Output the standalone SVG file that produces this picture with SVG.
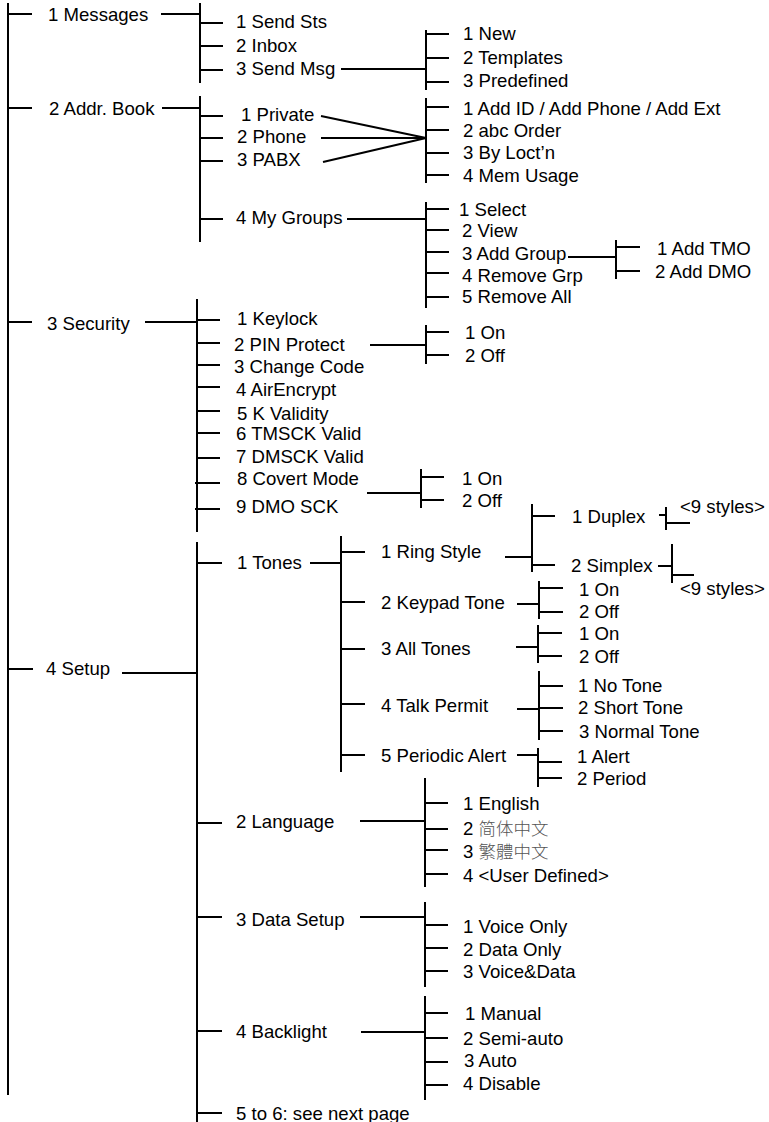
<svg xmlns="http://www.w3.org/2000/svg" width="769" height="1122" viewBox="0 0 769 1122">
<style>
  .c line { stroke: #000; stroke-width: 2; stroke-linecap: butt; fill: none; }
  text { font-family: "Liberation Sans", Arial, sans-serif; font-size: 18.6px; fill: #000; }
  .cjk { font-family: "Noto Sans CJK SC", sans-serif; fill: #555; font-weight: 300; font-size: 17.5px; }
  .cjktc { font-family: "Noto Sans CJK TC", sans-serif; fill: #555; font-weight: 300; font-size: 17.5px; }
</style>
<rect width="769" height="1122" fill="#fff"/>
<g id="connectors" class="c">
  <line x1="8" y1="3" x2="8" y2="1095"/>
  <line x1="8" y1="14" x2="32" y2="14"/>
  <line x1="8" y1="108" x2="32" y2="108"/>
  <line x1="8" y1="322" x2="32" y2="322"/>
  <line x1="8" y1="669" x2="33" y2="669"/>
  <!-- Messages -->
  <line x1="161" y1="14" x2="200" y2="14"/>
  <line x1="200" y1="3" x2="200" y2="83"/>
  <line x1="200" y1="23" x2="223" y2="23"/>
  <line x1="200" y1="46" x2="223" y2="46"/>
  <line x1="200" y1="70" x2="223" y2="70"/>
  <line x1="341" y1="69" x2="426" y2="69"/>
  <line x1="426" y1="30" x2="426" y2="90"/>
  <line x1="426" y1="34" x2="449" y2="34"/>
  <line x1="426" y1="58" x2="449" y2="58"/>
  <line x1="426" y1="82" x2="449" y2="82"/>
  <!-- Addr Book -->
  <line x1="162" y1="108" x2="200" y2="108"/>
  <line x1="200" y1="96" x2="200" y2="242"/>
  <line x1="200" y1="116" x2="223" y2="116"/>
  <line x1="200" y1="138" x2="223" y2="138"/>
  <line x1="200" y1="161" x2="223" y2="161"/>
  <line x1="200" y1="219" x2="223" y2="219"/>
  <line x1="321" y1="116" x2="426" y2="138" stroke-width="1.3"/>
  <line x1="321" y1="138" x2="426" y2="138"/>
  <line x1="323" y1="162" x2="426" y2="138" stroke-width="1.3"/>
  <line x1="426" y1="98" x2="426" y2="183"/>
  <line x1="426" y1="107" x2="449" y2="107"/>
  <line x1="426" y1="130" x2="449" y2="130"/>
  <line x1="426" y1="153" x2="449" y2="153"/>
  <line x1="426" y1="175" x2="449" y2="175"/>
  <line x1="347" y1="219" x2="426" y2="219"/>
  <line x1="426" y1="202" x2="426" y2="308"/>
  <line x1="426" y1="209" x2="449" y2="209"/>
  <line x1="426" y1="230" x2="449" y2="230"/>
  <line x1="426" y1="252" x2="449" y2="252"/>
  <line x1="426" y1="273" x2="449" y2="273"/>
  <line x1="426" y1="297" x2="449" y2="297"/>
  <line x1="568" y1="257" x2="616" y2="257"/>
  <line x1="616" y1="240" x2="616" y2="279"/>
  <line x1="616" y1="247" x2="640" y2="247"/>
  <line x1="616" y1="271" x2="640" y2="271"/>
  <!-- Security -->
  <line x1="145" y1="322" x2="197" y2="322"/>
  <line x1="197" y1="299" x2="197" y2="532"/>
  <line x1="197" y1="320" x2="220" y2="320"/>
  <line x1="197" y1="343" x2="220" y2="343"/>
  <line x1="197" y1="365" x2="220" y2="365"/>
  <line x1="197" y1="387" x2="220" y2="387"/>
  <line x1="197" y1="411" x2="220" y2="411"/>
  <line x1="197" y1="433" x2="220" y2="433"/>
  <line x1="197" y1="458" x2="220" y2="458"/>
  <line x1="195" y1="483" x2="220" y2="483"/>
  <line x1="195" y1="509" x2="220" y2="509"/>
  <line x1="370" y1="345" x2="426" y2="345"/>
  <line x1="426" y1="325" x2="426" y2="364"/>
  <line x1="426" y1="332" x2="449" y2="332"/>
  <line x1="426" y1="355" x2="449" y2="355"/>
  <line x1="367" y1="493" x2="421" y2="493"/>
  <line x1="421" y1="469" x2="421" y2="508"/>
  <line x1="421" y1="477" x2="444" y2="477"/>
  <line x1="421" y1="500" x2="444" y2="500"/>
  <!-- Setup -->
  <line x1="122" y1="673" x2="197" y2="673"/>
  <line x1="197" y1="542" x2="197" y2="1122"/>
  <line x1="197" y1="563" x2="222" y2="563"/>
  <line x1="197" y1="823" x2="222" y2="823"/>
  <line x1="197" y1="917" x2="222" y2="917"/>
  <line x1="197" y1="1031" x2="222" y2="1031"/>
  <line x1="197" y1="1113" x2="222" y2="1113"/>
  <!-- Tones -->
  <line x1="310" y1="563" x2="341" y2="563"/>
  <line x1="341" y1="536" x2="341" y2="772"/>
  <line x1="341" y1="552" x2="365" y2="552"/>
  <line x1="341" y1="602" x2="365" y2="602"/>
  <line x1="341" y1="649" x2="365" y2="649"/>
  <line x1="341" y1="704" x2="365" y2="704"/>
  <line x1="341" y1="755" x2="365" y2="755"/>
  <!-- Ring style -->
  <line x1="505" y1="557" x2="532" y2="557"/>
  <line x1="532" y1="504" x2="532" y2="572"/>
  <line x1="532" y1="516" x2="555" y2="516"/>
  <line x1="532" y1="565" x2="555" y2="565"/>
  <line x1="659" y1="515" x2="666" y2="515"/>
  <line x1="666" y1="507" x2="666" y2="530"/>
  <line x1="666" y1="523" x2="690" y2="523"/>
  <line x1="658" y1="566" x2="672" y2="566"/>
  <line x1="672" y1="544" x2="672" y2="583"/>
  <line x1="672" y1="575" x2="694" y2="575"/>
  <!-- Keypad -->
  <line x1="517" y1="604" x2="539" y2="604"/>
  <line x1="539" y1="581" x2="539" y2="619"/>
  <line x1="539" y1="588" x2="563" y2="588"/>
  <line x1="539" y1="612" x2="563" y2="612"/>
  <!-- All tones -->
  <line x1="516" y1="647" x2="538" y2="647"/>
  <line x1="538" y1="625" x2="538" y2="663"/>
  <line x1="538" y1="633" x2="562" y2="633"/>
  <line x1="538" y1="656" x2="562" y2="656"/>
  <!-- Talk permit -->
  <line x1="517" y1="709" x2="539" y2="709"/>
  <line x1="539" y1="671" x2="539" y2="740"/>
  <line x1="539" y1="686" x2="563" y2="686"/>
  <line x1="539" y1="708" x2="563" y2="708"/>
  <line x1="539" y1="731" x2="563" y2="731"/>
  <!-- Periodic -->
  <line x1="517" y1="755" x2="539" y2="755"/>
  <line x1="538" y1="748" x2="538" y2="787"/>
  <line x1="538" y1="762" x2="562" y2="762"/>
  <line x1="538" y1="778" x2="562" y2="778"/>
  <!-- Language -->
  <line x1="360" y1="821" x2="425" y2="821"/>
  <line x1="425" y1="778" x2="425" y2="887"/>
  <line x1="425" y1="803" x2="448" y2="803"/>
  <line x1="425" y1="829" x2="448" y2="829"/>
  <line x1="425" y1="850" x2="448" y2="850"/>
  <line x1="425" y1="874" x2="448" y2="874"/>
  <!-- Data setup -->
  <line x1="360" y1="917" x2="425" y2="917"/>
  <line x1="425" y1="902" x2="425" y2="987"/>
  <line x1="425" y1="925" x2="448" y2="925"/>
  <line x1="425" y1="948" x2="448" y2="948"/>
  <line x1="425" y1="971" x2="448" y2="971"/>
  <!-- Backlight -->
  <line x1="361" y1="1032" x2="425" y2="1032"/>
  <line x1="425" y1="996" x2="425" y2="1100"/>
  <line x1="425" y1="1013" x2="448" y2="1013"/>
  <line x1="425" y1="1038" x2="448" y2="1038"/>
  <line x1="425" y1="1062" x2="448" y2="1062"/>
  <line x1="425" y1="1085" x2="448" y2="1085"/>
</g>
<g id="n-messages"><text x="48" y="21">1 Messages</text></g>
<g id="n-addrbook"><text x="49" y="115">2 Addr. Book</text></g>
<g id="n-security"><text x="47" y="330">3 Security</text></g>
<g id="n-setup"><text x="46" y="675">4 Setup</text></g>
<g id="n-sendsts"><text x="236" y="28">1 Send Sts</text></g>
<g id="n-inbox"><text x="236" y="52">2 Inbox</text></g>
<g id="n-sendmsg"><text x="236" y="75">3 Send Msg</text></g>
<g id="n-new"><text x="463" y="40">1 New</text></g>
<g id="n-templates"><text x="463" y="64">2 Templates</text></g>
<g id="n-predefined"><text x="463" y="87">3 Predefined</text></g>
<g id="n-private"><text x="241" y="121">1 Private</text></g>
<g id="n-phone"><text x="237" y="143">2 Phone</text></g>
<g id="n-pabx"><text x="237" y="166">3 PABX</text></g>
<g id="n-mygroups"><text x="236" y="224">4 My Groups</text></g>
<g id="n-addid"><text x="463" y="115">1 Add ID / Add Phone / Add Ext</text></g>
<g id="n-abc"><text x="463" y="137">2 abc Order</text></g>
<g id="n-byloc"><text x="463" y="159">3 By Loct’n</text></g>
<g id="n-memusage"><text x="463" y="182">4 Mem Usage</text></g>
<g id="n-select"><text x="459" y="216">1 Select</text></g>
<g id="n-view"><text x="462" y="237">2 View</text></g>
<g id="n-addgroup"><text x="462" y="260">3 Add Group</text></g>
<g id="n-removegrp"><text x="462" y="282">4 Remove Grp</text></g>
<g id="n-removeall"><text x="462" y="303">5 Remove All</text></g>
<g id="n-addtmo"><text x="657" y="255">1 Add TMO</text></g>
<g id="n-adddmo"><text x="655" y="278">2 Add DMO</text></g>
<g id="n-keylock"><text x="237" y="325">1 Keylock</text></g>
<g id="n-pin"><text x="234" y="351">2 PIN Protect</text></g>
<g id="n-changecode"><text x="234" y="373">3 Change Code</text></g>
<g id="n-airencrypt"><text x="236" y="396">4 AirEncrypt</text></g>
<g id="n-kvalidity"><text x="237" y="420">5 K Validity</text></g>
<g id="n-tmsck"><text x="236" y="440">6 TMSCK Valid</text></g>
<g id="n-dmsck"><text x="236" y="463">7 DMSCK Valid</text></g>
<g id="n-covert"><text x="237" y="485">8 Covert Mode</text></g>
<g id="n-dmosck"><text x="236" y="513">9 DMO SCK</text></g>
<g id="n-pin-on"><text x="465" y="339">1 On</text></g>
<g id="n-pin-off"><text x="465" y="362">2 Off</text></g>
<g id="n-cov-on"><text x="462" y="485">1 On</text></g>
<g id="n-cov-off"><text x="462" y="507">2 Off</text></g>
<g id="n-tones"><text x="237" y="569">1 Tones</text></g>
<g id="n-language"><text x="236" y="828">2 Language</text></g>
<g id="n-datasetup"><text x="236" y="926">3 Data Setup</text></g>
<g id="n-backlight"><text x="236" y="1038">4 Backlight</text></g>
<g id="n-next"><text x="236" y="1120">5 to 6: see next page</text></g>
<g id="n-ringstyle"><text x="381" y="558">1 Ring Style</text></g>
<g id="n-keypad"><text x="381" y="609">2 Keypad Tone</text></g>
<g id="n-alltones"><text x="381" y="655">3 All Tones</text></g>
<g id="n-talkpermit"><text x="381" y="712">4 Talk Permit</text></g>
<g id="n-periodic"><text x="381" y="762">5 Periodic Alert</text></g>
<g id="n-duplex"><text x="572" y="523">1 Duplex</text></g>
<g id="n-simplex"><text x="571" y="572">2 Simplex</text></g>
<g id="n-dup-styles"><text x="680" y="513">&lt;9 styles&gt;</text></g>
<g id="n-sim-styles"><text x="680" y="595">&lt;9 styles&gt;</text></g>
<g id="n-key-on"><text x="579" y="596">1 On</text></g>
<g id="n-key-off"><text x="579" y="618">2 Off</text></g>
<g id="n-all-on"><text x="579" y="640">1 On</text></g>
<g id="n-all-off"><text x="579" y="663">2 Off</text></g>
<g id="n-notone"><text x="578" y="692">1 No Tone</text></g>
<g id="n-shorttone"><text x="578" y="714">2 Short Tone</text></g>
<g id="n-normaltone"><text x="579" y="738">3 Normal Tone</text></g>
<g id="n-alert"><text x="577" y="763">1 Alert</text></g>
<g id="n-period"><text x="577" y="785">2 Period</text></g>
<g id="n-english"><text x="463" y="810">1 English</text></g>
<g id="n-sc"><text x="463" y="835">2 <tspan class="cjk">简体中文</tspan></text></g>
<g id="n-tc"><text x="463" y="858">3 <tspan class="cjktc">繁體中文</tspan></text></g>
<g id="n-userdef"><text x="463" y="882">4 &lt;User Defined&gt;</text></g>
<g id="n-voiceonly"><text x="463" y="933">1 Voice Only</text></g>
<g id="n-dataonly"><text x="463" y="956">2 Data Only</text></g>
<g id="n-voicedata"><text x="463" y="978">3 Voice&amp;Data</text></g>
<g id="n-manual"><text x="465" y="1020">1 Manual</text></g>
<g id="n-semiauto"><text x="463" y="1045">2 Semi-auto</text></g>
<g id="n-auto"><text x="464" y="1067">3 Auto</text></g>
<g id="n-disable"><text x="463" y="1090">4 Disable</text></g>
</svg>
